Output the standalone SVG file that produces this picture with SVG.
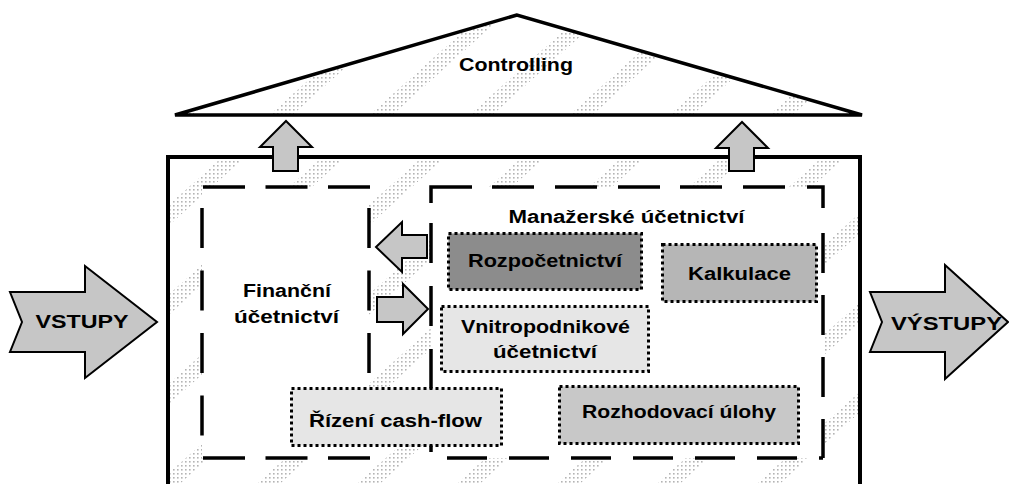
<svg xmlns="http://www.w3.org/2000/svg" width="1009" height="484" viewBox="0 0 1009 484">
<style>
.t{font-family:"Liberation Sans",Arial,sans-serif;font-weight:bold;font-size:18px;fill:#000;text-anchor:middle}
.dash{fill:none;stroke:#000;stroke-width:3.5}
.box{stroke:#000;stroke-width:3;stroke-dasharray:3 3}
.arr{fill:#c6c6c6;stroke:#000;stroke-width:2;stroke-linejoin:miter}
.hatch{fill:url(#dots);mask:url(#m)}
</style>
<defs>
<pattern id="dots" patternUnits="userSpaceOnUse" width="4" height="4">
<rect x="1" y="1" width="1.6" height="1.6" fill="#b4b4b4"/>
</pattern>
<pattern id="stripes" patternUnits="userSpaceOnUse" x="-2" y="0" width="100" height="100" patternTransform="skewX(-48.2)">
<rect x="0" y="0" width="23" height="100" fill="#fff"/>
</pattern>
<mask id="m" maskUnits="userSpaceOnUse" x="0" y="0" width="1009" height="484">
<rect x="0" y="0" width="1009" height="484" fill="url(#stripes)"/>
</mask>
</defs>
<rect width="1009" height="484" fill="#fff"/>

<g id="controlling">
<polygon points="517,15 175,115 862,115" fill="#fff"/>
<polygon points="517,15 175,115 862,115" class="hatch"/>
<polygon points="517,15 175,115 862,115" fill="none" stroke="#000" stroke-width="3.5"/>
<text class="t" x="516" y="71" textLength="114" lengthAdjust="spacingAndGlyphs">Controlling</text>
</g>

<g id="podnik">
<rect x="168" y="157" width="692" height="340" fill="#fff"/>
<rect x="168" y="157" width="692" height="340" class="hatch"/>
<rect x="202" y="187" width="167" height="271" fill="#fff"/>
<rect x="431" y="187" width="392" height="271" fill="#fff"/>
<rect x="168" y="157" width="692" height="340" fill="none" stroke="#000" stroke-width="4"/>
</g>

<g id="financni">
<path class="dash" d="M203,187 H370" stroke-dasharray="42 20.5"/>
<path class="dash" d="M203,458 H370" stroke-dasharray="42 20.5"/>
<path class="dash" d="M202,208 V437" stroke-dasharray="40 22.5"/>
<path class="dash" d="M369,208 V437" stroke-dasharray="40 22.5"/>
<text class="t" x="287" y="297" textLength="88" lengthAdjust="spacingAndGlyphs">Finanční</text>
<text class="t" x="286.5" y="323" textLength="105" lengthAdjust="spacingAndGlyphs">účetnictví</text>
</g>

<g id="manazerske">
<path class="dash" d="M431,203 V187 H823 V208" stroke-dasharray="57 20 42 21 42 21 42 20 42 21 42 22 40"/>
<path class="dash" d="M431,223 V458" stroke-dasharray="40 23"/>
<path class="dash" d="M447,458 H823" stroke-dasharray="40 22"/>
<path class="dash" d="M823,233 V458" stroke-dasharray="40 22"/>
<text class="t" x="626.5" y="223" textLength="236" lengthAdjust="spacingAndGlyphs">Manažerské účetnictví</text>
</g>

<g id="rozpocetnictvi">
<rect class="box" x="448.5" y="233.5" width="193" height="56" fill="#8c8c8c"/>
<text class="t" x="545" y="267" textLength="154" lengthAdjust="spacingAndGlyphs">Rozpočetnictví</text>
</g>

<g id="kalkulace">
<rect class="box" x="662.5" y="244.5" width="154" height="57" fill="#b6b6b6"/>
<text class="t" x="739.5" y="280" textLength="103" lengthAdjust="spacingAndGlyphs">Kalkulace</text>
</g>

<g id="vnitropodnikove">
<rect class="box" x="441.5" y="306.5" width="207" height="65" fill="#e6e6e6"/>
<text class="t" x="545.5" y="333" textLength="169" lengthAdjust="spacingAndGlyphs">Vnitropodnikové</text>
<text class="t" x="545" y="358" textLength="104" lengthAdjust="spacingAndGlyphs">účetnictví</text>
</g>

<g id="rizeni-cash-flow">
<rect class="box" x="291.5" y="388.5" width="210" height="57" fill="#e6e6e6"/>
<text class="t" x="395.5" y="427" textLength="173" lengthAdjust="spacingAndGlyphs">Řízení cash-flow</text>
</g>

<g id="rozhodovaci-ulohy">
<rect class="box" x="559.5" y="386.5" width="239" height="57" fill="#c8c8c8"/>
<text class="t" x="679" y="418" textLength="194" lengthAdjust="spacingAndGlyphs">Rozhodovací úlohy</text>
</g>

<g id="vstupy">
<polygon class="arr" points="10,292 85,292 85,266 157,322 85,378 85,352 10,352 22,322"/>
<text class="t" x="82" y="328" textLength="93" lengthAdjust="spacingAndGlyphs">VSTUPY</text>
</g>

<g id="vystupy">
<polygon class="arr" points="870,292 945,292 945,265 1008,322 945,379 945,352 870,352 882,322"/>
<text class="t" x="946.5" y="330" textLength="111" lengthAdjust="spacingAndGlyphs">VÝSTUPY</text>
</g>

<g id="connectors">
<polygon class="arr" points="273,171 273,147 260,147 286,121 312,147 298,147 298,171"/>
<polygon class="arr" points="729,171 729,148 716,148 742,122 768,148 754,148 754,171"/>
<polygon class="arr" points="427,235 402,235 402,222 376,247 402,272 402,258 427,258"/>
<polygon class="arr" points="377,297 403,297 403,284 428,309 403,334 403,322 377,322"/>
</g>
</svg>
